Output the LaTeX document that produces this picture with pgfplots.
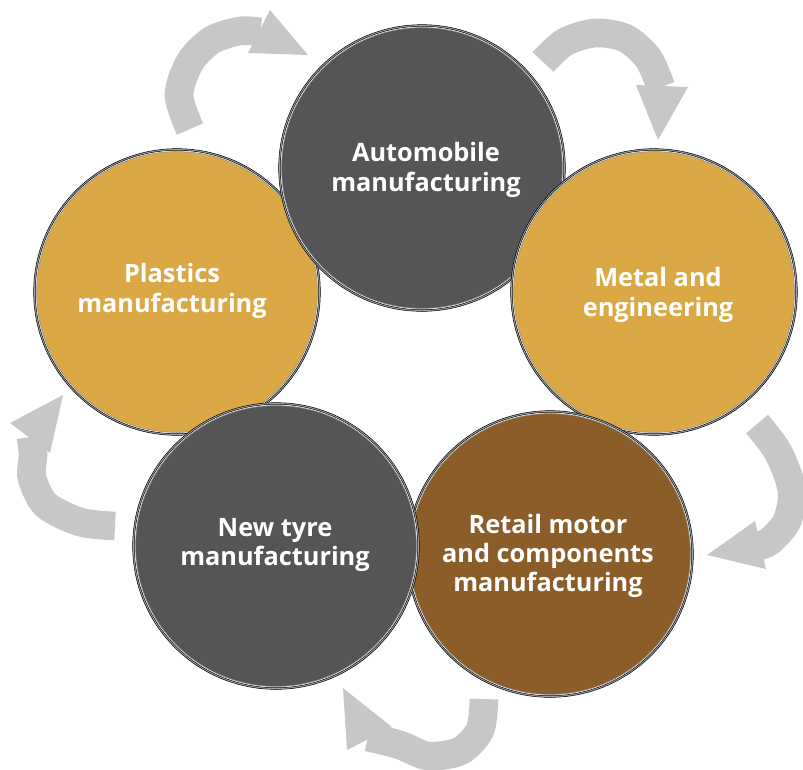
\documentclass[border=0pt]{standalone}
\usepackage{pgfplots}
\pgfplotsset{compat=1.18}
\usepackage{fontspec}
\setmainfont{Open Sans}
\definecolor{darkc}{HTML}{555555}
\definecolor{goldc}{HTML}{DAA945}
\definecolor{brownc}{HTML}{8B5D28}
\definecolor{arrowc}{HTML}{C6C8C7}
\definecolor{shadc}{HTML}{A8A8A8}
\newcommand{\bubble}[3]{%
  \addplot[only marks, mark=*, mark size=107.5pt, mark options={fill=shadc, draw=none}] coordinates {(#1,#2)};
  \addplot[only marks, mark=*, mark size=106.3pt, mark options={fill=white, draw=none}] coordinates {(#1,#2)};
  \addplot[only marks, mark=*, mark size=105.3pt, mark options={fill=#3, draw=black!45, line width=0.4pt}] coordinates {(#1,#2)};
}
\tikzset{lbl/.style={text=white, align=center, font=\fontsize{19}{22}\selectfont\bfseries}}
\begin{document}
\begin{tikzpicture}
\begin{axis}[
  scale only axis, width=602.25pt, height=576.75pt,
  xmin=0, xmax=803, ymin=0, ymax=769, y dir=reverse,
  hide axis, clip=false,
]
% arrows
\addplot[smooth, line width=21.5pt, color=arrowc, line cap=butt] coordinates {(190,129) (179,95) (190,62) (212,40) (240,31) (260,32)};
\addplot[fill=arrowc, draw=none] coordinates {(270,10) (248,53) (308,55)} -- cycle;
\addplot[smooth, line width=21.5pt, color=arrowc, line cap=butt] coordinates {(543,62) (565,42) (595,33) (625,38) (648,58) (661,87)};
\addplot[fill=arrowc, draw=none] coordinates {(636,85) (688,87) (658,140)} -- cycle;
\addplot[smooth, line width=21.5pt, color=arrowc, line cap=butt] coordinates {(757,424) (778,452) (792,490) (787,521) (770,541) (758,546)};
\addplot[fill=arrowc, draw=none] coordinates {(755,521) (766,569) (707,555)} -- cycle;
\addplot[smooth, line width=21.5pt, color=arrowc, line cap=butt] coordinates {(484,699) (480,730) (460,751) (428,756) (400,745) (368,737)};
\addplot[fill=arrowc, draw=none] coordinates {(343,688) (347,750) (392,727)} -- cycle;
\addplot[smooth, line width=21.5pt, color=arrowc, line cap=butt] coordinates {(115,526) (80,522) (46,505) (32,478) (33,455) (31,437)};
\addplot[fill=arrowc, draw=none] coordinates {(63,395) (10,423) (50,453)} -- cycle;
% circles in stacking order
\bubble{177}{292}{goldc}
\bubble{422}{168}{darkc}
\bubble{654}{292}{goldc}
\bubble{550}{554}{brownc}
\bubble{276}{546}{darkc}
% label anchors
\coordinate (tA) at (axis cs:426,170);
\coordinate (tP) at (axis cs:172,291);
\coordinate (tM) at (axis cs:658,295);
\coordinate (tR) at (axis cs:548,556);
\coordinate (tN) at (axis cs:275,545);
\end{axis}
\node[lbl] at (tA) {Automobile\\manufacturing};
\node[lbl] at (tP) {Plastics\\manufacturing};
\node[lbl] at (tM) {Metal and\\engineering};
\node[lbl] at (tR) {Retail motor\\and components\\manufacturing};
\node[lbl] at (tN) {New tyre\\manufacturing};
\pgfresetboundingbox
\path (current axis.south west) rectangle (current axis.north east);
\end{tikzpicture}
\end{document}
